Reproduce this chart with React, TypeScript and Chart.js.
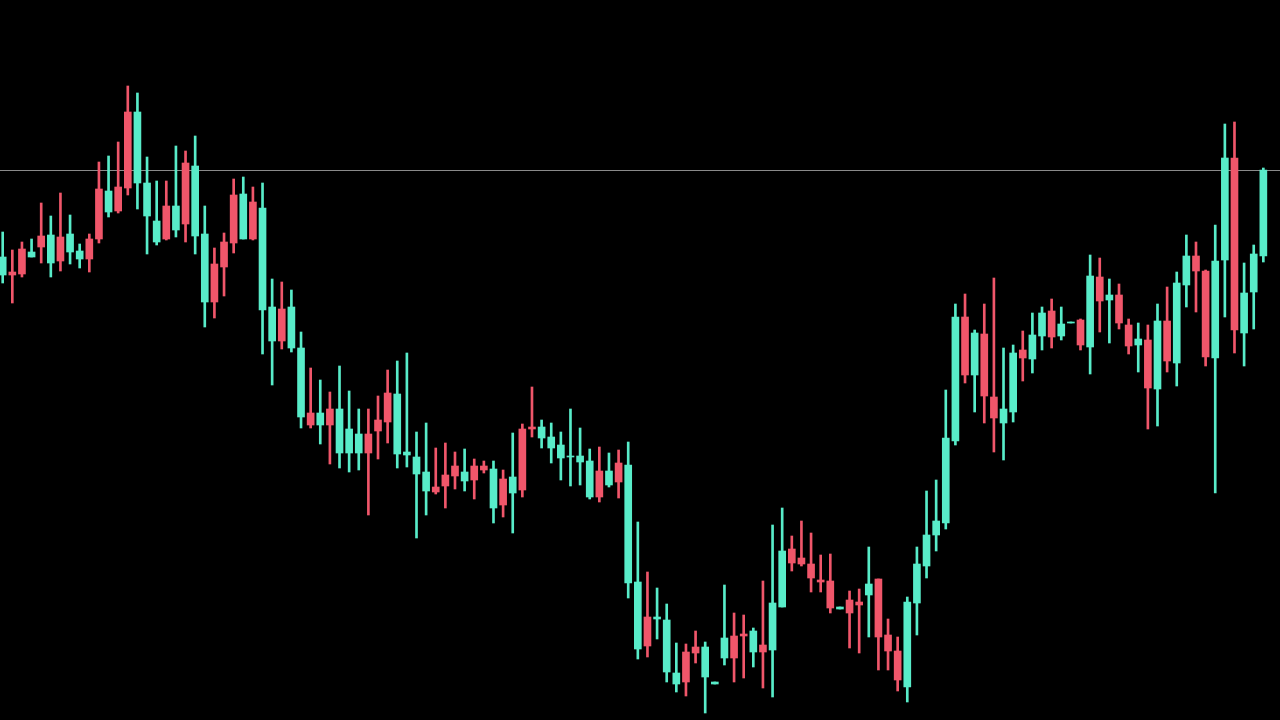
import React, { useEffect, useRef } from "react";
import { Chart, registerables } from "chart.js";

Chart.register(...registerables);

const opens = [445,448,471,463,484,457,483,468,461,481,531,508,533,608,537,504,478,514,490,557,484,418,456,478,525,481,518,410,379,411,372,303,307,295,311,267,267,267,286,300,327,266,265,246,229,233,245,254,239,254,254,212,241,227,291,293,282,272,262,263,258,223,249,235,257,137,71,103,101,48,36,68,73,43,36,62,84,86,68,75,70,113,171,162,156,140,139,111,120,118,125,141,85,69,33,117,154,185,197,279,403,345,386,323,297,308,370,361,384,409,384,397,400,373,443,420,425,395,375,380,331,399,357,435,464,449,362,460,562,387,428,464];
const highs = [488,470,478,481,517,504,527,505,476,486,558,564,578,634,627,563,539,539,574,569,584,514,472,487,541,543,533,537,441,438,430,388,352,340,328,354,329,311,311,324,350,359,367,288,297,272,277,268,271,261,259,259,250,287,296,333,300,297,288,311,292,271,273,267,270,278,198,148,132,116,77,76,89,78,38,135,107,105,92,139,195,212,184,199,187,165,166,113,129,131,173,141,101,83,123,173,229,240,330,416,426,390,416,442,372,375,389,407,413,421,413,398,401,465,462,441,436,401,397,395,416,433,448,485,478,450,495,596,598,457,475,552];
const lows = [437,417,443,463,457,443,449,456,452,448,477,503,507,525,511,466,475,480,483,478,466,393,402,424,467,481,480,366,335,371,368,292,292,276,256,252,248,250,205,261,277,252,253,182,205,226,212,231,229,221,247,197,203,187,223,283,272,257,240,234,235,221,218,233,222,122,61,63,81,38,28,24,57,7,36,55,38,42,53,32,23,113,149,154,128,128,107,111,72,67,83,50,50,29,18,85,142,169,191,275,337,308,297,268,260,298,339,347,370,372,380,397,370,346,388,377,391,366,348,291,294,348,334,413,408,354,227,403,367,354,391,458];
const closes = [463,445,446,468,473,485,459,486,469,461,481,529,509,532,608,537,499,481,514,496,554,486,418,453,477,526,481,512,413,379,413,372,295,307,295,311,291,286,267,289,298,326,268,263,248,228,234,244,248,240,250,251,215,243,230,291,293,283,275,264,264,259,223,249,238,255,138,74,103,100,47,38,67,73,38,82,62,84,89,68,117,169,157,156,142,138,112,113,107,115,136,83,69,40,118,156,185,199,282,403,345,387,324,302,311,367,362,385,407,383,396,398,375,444,419,425,397,374,381,332,399,359,437,464,449,363,459,562,390,427,466,550];

const priceLevel = 550;

const UP = "#58ecc9";
const DOWN = "#f0566a";
const LEVEL_COLOR = "#8a8a8a";

export default function App() {
  const ref = useRef<HTMLCanvasElement | null>(null);

  useEffect(() => {
    if (!ref.current) return;
    const colors = opens.map((o, i) => (closes[i] >= o ? UP : DOWN));
    const bodies = opens.map((o, i) => ({ x: i, y: [Math.min(o, closes[i]), Math.max(o, closes[i])] }));
    const wicks = lows.map((l, i) => ({ x: i, y: [l, highs[i]] }));

    const levelPlugin = {
      id: "levelLine",
      beforeDatasetsDraw(chart: any) {
        const { ctx, chartArea, scales } = chart;
        const y = Math.round(scales.y.getPixelForValue(priceLevel)) + 0.5;
        ctx.save();
        ctx.strokeStyle = LEVEL_COLOR;
        ctx.lineWidth = 1;
        ctx.beginPath();
        ctx.moveTo(chartArea.left, y);
        ctx.lineTo(chartArea.right, y);
        ctx.stroke();
        ctx.restore();
      },
    };

    const chart = new Chart(ref.current, {
      type: "bar",
      data: {
        datasets: [
          {
            label: "body",
            data: bodies as any,
            backgroundColor: colors,
            borderWidth: 0,
            barThickness: 7,
            grouped: false,
            order: 0,
          } as any,
          {
            label: "wick",
            data: wicks as any,
            backgroundColor: colors,
            borderWidth: 0,
            barThickness: 2,
            grouped: false,
            order: 1,
          } as any,
        ],
      },
      options: {
        animation: false,
        responsive: false,
        devicePixelRatio: 1,
        layout: { padding: 0 },
        plugins: { legend: { display: false }, tooltip: { enabled: false } },
        scales: {
          x: { type: "linear", display: false, min: -0.2806, max: 132.73, offset: false, grid: { display: false } },
          y: { type: "linear", display: false, min: 0, max: 720, grid: { display: false } },
        },
      },
      plugins: [levelPlugin],
    });
    return () => chart.destroy();
  }, []);

  return (
    <div style={{ position: "fixed", left: 0, top: 0, width: 1280, height: 720, background: "#000" }}>
      <canvas ref={ref} width={1280} height={720} style={{ display: "block" }} />
    </div>
  );
}
